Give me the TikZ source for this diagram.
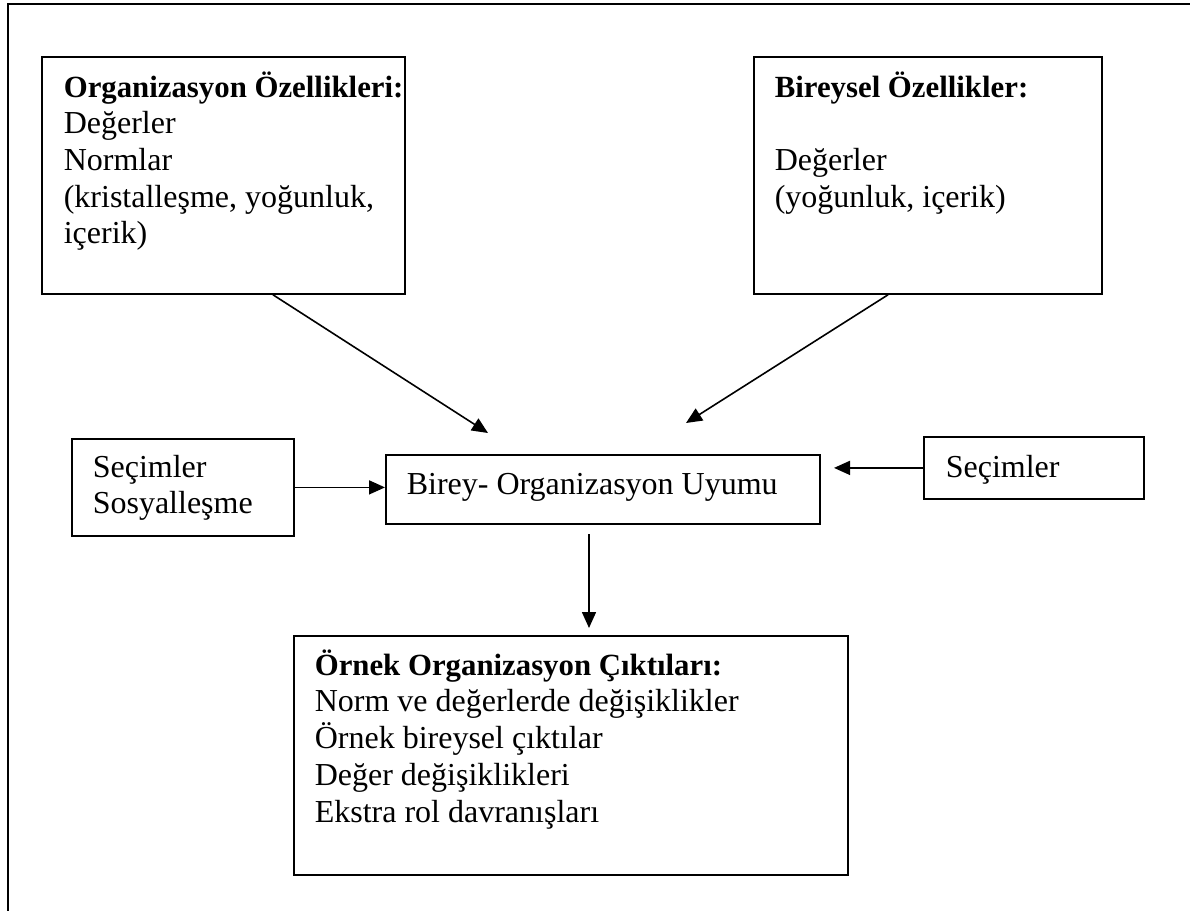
\documentclass[tikz,border=0pt]{standalone}
\usepackage{fontspec}
\setmainfont{Liberation Serif}
\usetikzlibrary{arrows.meta, positioning}
\newcommand{\boxlines}[1]{\begin{tabular}[t]{@{}l@{}}#1\end{tabular}}
\newcommand{\boxhead}[1]{{\fontsize{15.4}{18.35}\selectfont\bfseries #1}}

\begin{document}
\begin{tikzpicture}[x=0.5pt, y=-0.5pt, ->, >={Triangle[length=8pt, width=7pt]}, line width=0.8pt,
	box/.style={draw=black, line width=0.9pt, inner sep=0pt, anchor=north west, minimum width=#1},
	box/.default=10pt,
	txt/.style={anchor=base west, inner sep=0pt, font=\fontsize{16}{18.35}\selectfont}]
	\useasboundingbox (0,0) rectangle (1190,911);
	% frame
	\draw[-, line width=1.3pt] (8,911) -- (8,4) -- (1190,4);

	% boxes
	\node[box=181.5pt, minimum height=118.5pt] (org) at (41,56) {};
	\node[box=174pt, minimum height=118.5pt] (bir) at (753,56) {};
	\node[box=111pt, minimum height=48.5pt] (sos) at (71,438) {};
	\node[box=217pt, minimum height=34.5pt] (fit) at (385,454) {};
	\node[box=110pt, minimum height=31pt] (sec) at (923,436) {};
	\node[box=277pt, minimum height=119.5pt] (out) at (293,635) {};

	% texts
	\node[txt] (orgtxt) at ([shift={(22,41)}]org.north west) {\boxlines{\boxhead{Organizasyon Özellikleri:}\\Değerler\\Normlar\\(kristalleşme, yoğunluk,\\içerik)}};
	\node[txt] (birtxt) at ([shift={(21,41)}]bir.north west) {\boxlines{\boxhead{Bireysel Özellikler:}\\ \\Değerler\\(yoğunluk, içerik)}};
	\node[txt] (sostxt) at ([shift={(21,39)}]sos.north west) {\boxlines{Seçimler\\Sosyalleşme}};
	\node[txt] (fittxt) at ([shift={(21,40)}]fit.north west) {Birey- Organizasyon Uyumu};
	\node[txt] (sectxt) at ([shift={(22,41)}]sec.north west) {Seçimler};
	\node[txt] (outtxt) at ([shift={(21,40)}]out.north west) {\boxlines{\boxhead{Örnek Organizasyon Çıktıları:}\\Norm ve değerlerde değişiklikler\\Örnek bireysel çıktılar\\Değer değişiklikleri\\Ekstra rol davranışları}};

	% arrow ends
	\coordinate (fitTL) at (488,433);
	\coordinate (fitTR) at (686,423);
	\coordinate (fitR) at (834,0);
	\coordinate (fitB) at (589,534);
	\coordinate (outT) at (589,628);

	% connectors
	\draw ([xshift=116pt]org.south west) -- (fitTL);
	\draw ([xshift=67.5pt]bir.south west) -- (fitTR);
	\draw (sos.east) -- (sos.east -| fit.west);
	\draw (sec.west) -- (sec.west -| fitR);
	\draw (fitB) -- (outT);
\end{tikzpicture}
\end{document}
